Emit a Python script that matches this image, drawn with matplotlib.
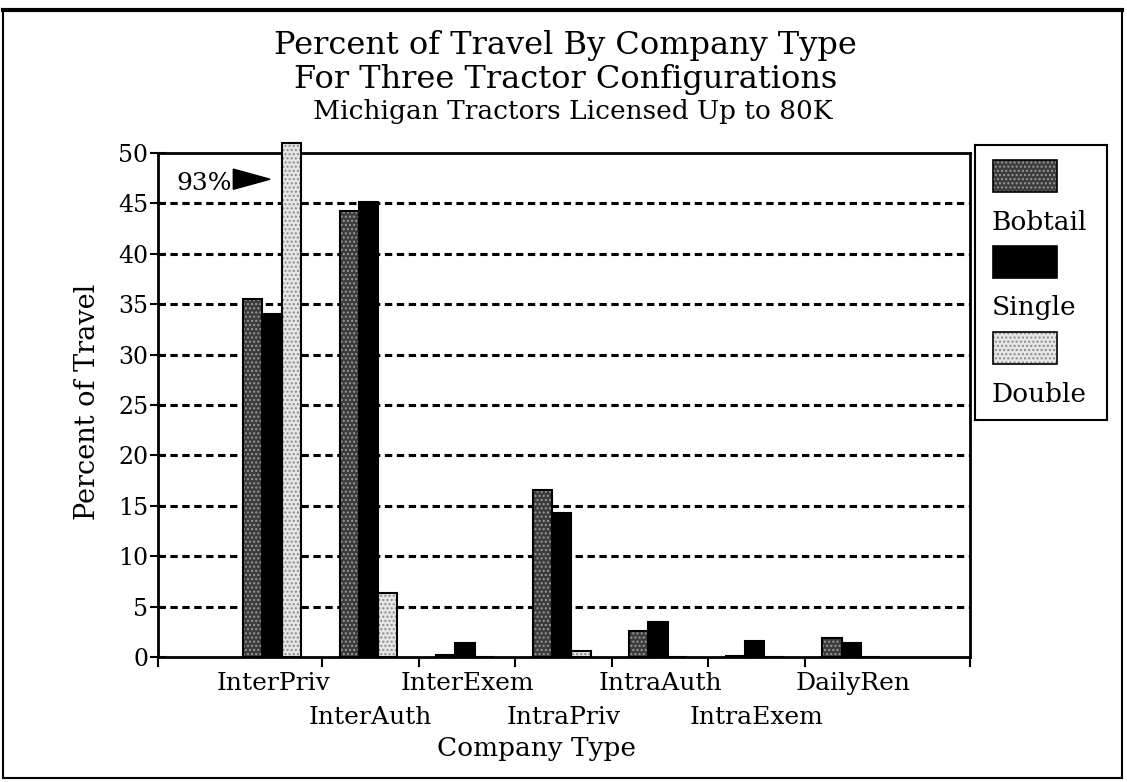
import matplotlib.pyplot as plt
from matplotlib.patches import Rectangle, Polygon
from matplotlib.lines import Line2D
import numpy as np

# data
categories = ['InterPriv', 'InterAuth', 'InterExem', 'IntraPriv', 'IntraAuth', 'IntraExem', 'DailyRen']
series = ['Bobtail', 'Single', 'Double']
bobtail = [35.5, 44.2, 0.2, 16.6, 2.6, 0.1, 1.9]
single = [34.0, 45.1, 1.4, 14.3, 3.5, 1.6, 1.4]
double = [93.0, 6.3, 0.0, 0.6, 0.0, 0.0, 0.0]
yticks = [0, 5, 10, 15, 20, 25, 30, 35, 40, 45, 50]
cap = 51  # bars above the frame are cut off here

plt.rcParams['font.family'] = ['DejaVu Serif']

fig = plt.figure(figsize=(11.27, 7.82), dpi=100)
ax = fig.add_axes([158 / 1127, 1 - 657 / 782, 812 / 1127, 504 / 782])

x = np.arange(len(categories))
width = 0.2
offsets = [-0.22, -0.02, 0.18]
faces = ['#3c3c3c', '#000000', '#e6e6e6']
hatch_cols = ['#9a9a9a', '#000000', '#8a8a8a']
hatches = ['....', '', '....']

for vals, off, fc, hc, h in zip([bobtail, single, double], offsets, faces, hatch_cols, hatches):
    shown = [min(v, cap) for v in vals]
    ax.bar(x + off, shown, width, facecolor=fc, edgecolor=hc, hatch=h, linewidth=0,
           clip_on=False, zorder=3)
    ax.bar(x + off, shown, width, fill=False, edgecolor='black', linewidth=1.5,
           clip_on=False, zorder=4)

xmin, xmax = -1.2, 7.21
ax.set_xlim(xmin, xmax)
ax.set_ylim(0, 50)

# dashed grid lines
for yv in yticks[1:-1]:
    ax.axhline(yv, color='black', lw=2.2, dashes=(2.4, 1.5), zorder=1)

ax.set_yticks(yticks)
ax.set_yticklabels([str(v) for v in yticks], fontsize=17)
ax.tick_params(axis='y', direction='inout', length=12, width=1.5, pad=1)

# ticks between categories (and at both ends), labels at centres in two rows
ax.set_xticks([xmin] + list(x[:-1] + 0.5) + [xmax])
ax.set_xticklabels([])
ax.tick_params(axis='x', which='major', direction='out', length=7, width=1.5)
for i, c in enumerate(categories):
    ax.text(x[i], -0.052 if i % 2 == 0 else -0.121, c, transform=ax.get_xaxis_transform(),
            ha='center', va='center', fontsize=18)

for s in ax.spines.values():
    s.set_linewidth(2)

ax.set_xlabel('Company Type', fontsize=19)
ax.xaxis.label.set_va('center')
ax.xaxis.set_label_coords(0.466, -0.181)
ax.set_ylabel('Percent of Travel', fontsize=19.5)
ax.yaxis.label.set_va('center')
ax.yaxis.set_label_coords(-0.087, 0.506)

# 93% marker pointing at the clipped Double bar
ax.text(-1.01, 47.0, '93%', fontsize=18, va='center', ha='left')
ax.add_patch(Polygon([[-0.42, 48.4], [-0.42, 46.4], [-0.04, 47.4]], closed=True,
                     facecolor='black', edgecolor='black', zorder=5))

# titles
fig.text(0.502, 0.942, 'Percent of Travel By Company Type', ha='center', va='center', fontsize=23)
fig.text(0.502, 0.898, 'For Three Tractor Configurations', ha='center', va='center', fontsize=23)
fig.text(0.508, 0.857, 'Michigan Tractors Licensed Up to 80K', ha='center', va='center', fontsize=19)

# legend box with patches above their labels
lax = fig.add_axes([975 / 1127, 1 - 420 / 782, 132 / 1127, 275 / 782])
lax.set_xlim(0, 132)
lax.set_ylim(275, 0)
lax.set_xticks([])
lax.set_yticks([])
for s in lax.spines.values():
    s.set_linewidth(1.5)
for i, (name, fc, hc, h) in enumerate(zip(series, faces, hatch_cols, hatches)):
    top = 15 + i * 86
    lax.add_patch(Rectangle((18, top), 64, 32, facecolor=fc, edgecolor=hc, hatch=h, lw=0))
    lax.add_patch(Rectangle((18, top), 64, 32, fill=False, edgecolor='black', lw=1.2))
    lax.text(17, top + 62, name, fontsize=19, va='center', ha='left')

# outer frame
fig.add_artist(Rectangle((3 / 1127, 4 / 782), 1119 / 1127, 768 / 782, transform=fig.transFigure,
                         fill=False, edgecolor='black', lw=1.5))
fig.add_artist(Line2D([3 / 1127, 1122 / 1127], [772 / 782, 772 / 782], transform=fig.transFigure,
                      color='black', lw=3))

fig.savefig('out.png', dpi=100)
